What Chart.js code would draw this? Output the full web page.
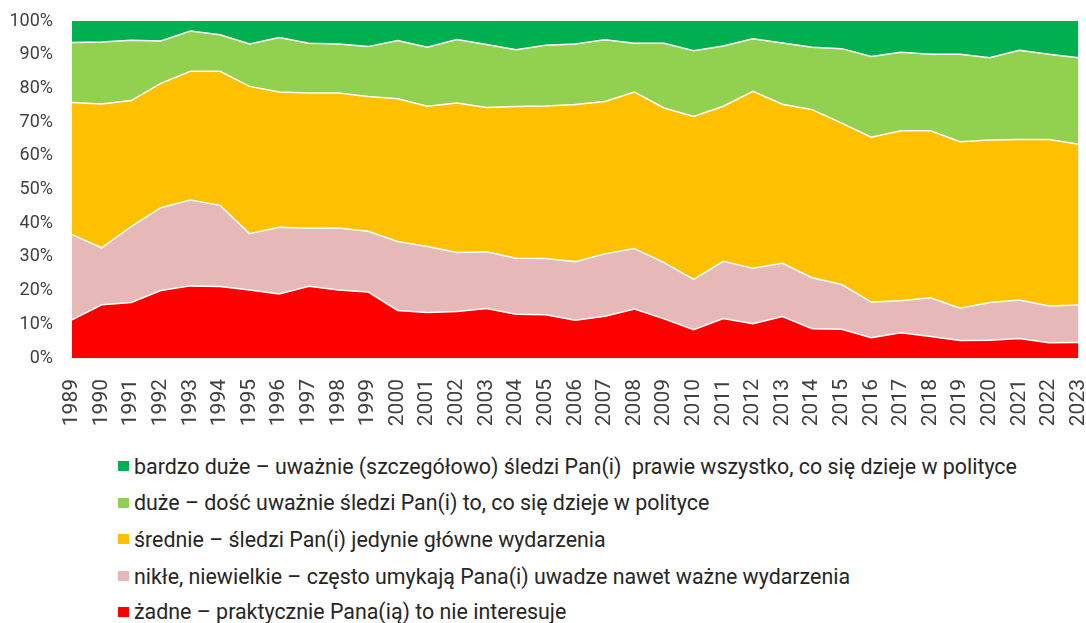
<!DOCTYPE html>
<html>
<head>
<meta charset="utf-8">
<script src="https://cdn.jsdelivr.net/npm/chart.js@4"></script>
<style>
    body { margin: 0; background: #fff; font-family: Roboto, sans-serif; }
    #wrap { position: relative; width: 1086px; height: 623px; }
    #box { position: absolute; left: 0; top: 0; width: 1086px; height: 430px; }
    #legend { position: absolute; left: 118px; top: 0; }
    .item { position: absolute; left: 0; display: flex; align-items: center; height: 26px; white-space: pre; font-size: 21.4px; color: #262626; }
    .item span.mark { width: 11px; height: 10px; margin-right: 5px; display: inline-block; }
</style>
</head>
<body>
<div id="wrap">
    <div id="box"><canvas id="chart"></canvas></div>
    <div id="legend"></div>
</div>
<script>
const years = [];
for (let y = 1989; y <= 2023; y++) years.push(String(y));

const labelsSeries = [
    "żadne – praktycznie Pana(ią) to nie interesuje",
    "nikłe, niewielkie – często umykają Pana(i) uwadze nawet ważne wydarzenia",
    "średnie – śledzi Pan(i) jedynie główne wydarzenia",
    "duże – dość uważnie śledzi Pan(i) to, co się dzieje w polityce",
    "bardzo duże – uważnie (szczegółowo) śledzi Pan(i)  prawie wszystko, co się dzieje w polityce"
];
const colorsSeries = ["#ff0000", "#e6b8b7", "#ffc000", "#92d050", "#00b050"];

const zadne = [11.3,15.8,16.5,20.0,21.4,21.2,20.2,19.0,21.3,20.2,19.6,14.1,13.5,13.8,14.7,13.0,12.8,11.2,12.4,14.5,11.6,8.4,11.7,10.2,12.3,8.7,8.5,6.0,7.5,6.4,5.2,5.3,5.8,4.5,4.6];
const nikle = [25.3,16.9,22.5,24.6,25.5,24.1,16.7,19.8,17.2,18.4,18.0,20.5,19.6,17.5,16.8,16.6,16.7,17.4,18.5,18.0,16.7,14.9,17.0,16.4,15.8,15.1,13.3,10.6,9.5,11.5,9.6,11.2,11.4,10.9,11.1];
const srednie = [39.2,42.7,37.4,36.9,38.2,39.8,43.7,40.1,40.1,40.0,40.0,42.3,41.6,44.4,42.8,45.0,45.3,46.6,45.2,46.4,45.9,48.4,46.0,52.5,47.2,49.9,47.9,48.9,50.4,49.5,49.4,48.2,47.6,49.4,47.7];
const duze = [17.8,18.4,17.9,12.6,11.9,10.8,12.6,16.2,14.8,14.6,14.8,17.3,17.5,18.8,18.7,16.9,18.0,18.0,18.3,14.5,19.2,19.5,17.9,15.6,18.2,18.5,22.1,24.0,23.3,22.7,25.9,24.4,26.5,25.3,25.7];
const bardzoDuze = [6.4,6.2,5.7,5.9,3.0,4.1,6.8,4.9,6.6,6.8,7.6,5.8,7.8,5.5,7.0,8.5,7.2,6.8,5.6,6.6,6.6,8.8,7.4,5.3,6.5,7.8,8.2,10.5,9.3,9.9,9.9,10.9,8.7,9.9,10.9];

const seriesData = [zadne, nikle, srednie, duze, bardzoDuze];

const datasets = seriesData.map(function(d, i){
    return {
        label: labelsSeries[i],
        data: d,
        backgroundColor: colorsSeries[i],
        borderColor: "#ffffff",
        borderWidth: i === 4 ? 0 : 1.5,
        pointRadius: 0,
        tension: 0,
        fill: i === 0 ? "origin" : "-1"
    };
});

const textColor = "#404040";

new Chart(document.getElementById("chart"), {
    type: "line",
    data: { labels: years, datasets: datasets },
    options: {
        responsive: true,
        maintainAspectRatio: false,
        animation: false,
        layout: { padding: { top: 21, right: 7.5, left: 0, bottom: 0 } },
        plugins: {
            legend: { display: false },
            tooltip: { enabled: false }
        },
        scales: {
            x: {
                offset: false,
                grid: { display: false, drawTicks: false },
                border: { display: true, color: "#d9d9d9", width: 1.5 },
                ticks: {
                    autoSkip: false,
                    maxRotation: 90,
                    minRotation: 90,
                    padding: 21,
                    color: textColor,
                    font: { family: "Roboto", size: 21 }
                },
                afterFit: function(scale){
                    scale.height = 72;
                    scale.paddingLeft = 0;
                    scale.paddingRight = 0;
                }
            },
            y: {
                stacked: true,
                min: 0,
                max: 100,
                grid: { display: false, drawTicks: false },
                border: { display: false },
                ticks: {
                    stepSize: 10,
                    padding: 19,
                    color: textColor,
                    font: { family: "Roboto", size: 18 },
                    callback: function(v){ return v + "%"; }
                },
                afterFit: function(scale){
                    scale.width = 72;
                    scale.paddingTop = 0;
                    scale.paddingBottom = 0;
                }
            }
        }
    }
});

// legenda w kolejności od góry
const legendCenters = [466, 502.5, 539, 576, 611.5];
const legend = document.getElementById("legend");
for (let k = 0; k < 5; k++) {
    const i = 4 - k;
    const div = document.createElement("div");
    div.className = "item";
    div.style.top = (legendCenters[k] - 13) + "px";
    const mark = document.createElement("span");
    mark.className = "mark";
    mark.style.background = colorsSeries[i];
    const txt = document.createElement("span");
    txt.textContent = labelsSeries[i];
    div.appendChild(mark);
    div.appendChild(txt);
    legend.appendChild(div);
}
</script>
</body>
</html>
